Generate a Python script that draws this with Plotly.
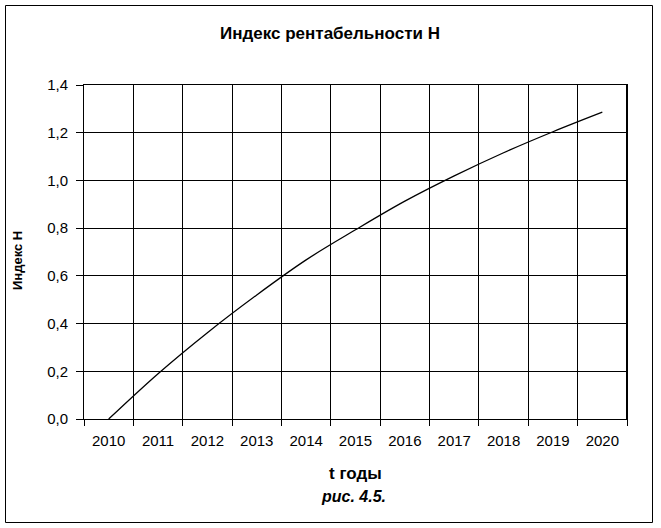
import plotly.graph_objects as go

years = ["2010", "2011", "2012", "2013", "2014", "2015", "2016", "2017", "2018", "2019", "2020"]
index_h = [0.0, 0.190, 0.362, 0.520, 0.667, 0.793, 0.913, 1.019, 1.116, 1.204, 1.286]
y_ticks = [0.0, 0.2, 0.4, 0.6, 0.8, 1.0, 1.2, 1.4]

W, H = 661, 528
L, R, T, B = 84, 34, 85, 109
pw, ph = W - L - R, H - T - B

def px_x(x):
    return (x - L) / pw

def px_y(y):
    return (H - B - y) / ph

FONT = "Liberation Sans, Arial, sans-serif"

fig = go.Figure()
fig.add_trace(go.Scatter(
    x=years, y=index_h, mode="lines",
    line=dict(color="black", width=1.3, shape="spline", smoothing=1.0),
    hoverinfo="x+y", showlegend=False,
))

fig.update_layout(
    width=W, height=H,
    margin=dict(l=L, r=R, t=T, b=B, pad=0),
    paper_bgcolor="white", plot_bgcolor="white",
    separators=", ",
    font=dict(family=FONT, color="black", size=13),
    showlegend=False,
    xaxis=dict(
        type="category", range=[-0.5, 10.5], tickson="boundaries",
        ticks="outside", ticklen=6, tickwidth=1, tickcolor="black",
        showgrid=True, gridcolor="black", gridwidth=1,
        showline=True, linecolor="black", linewidth=1, mirror=True,
        tickfont=dict(size=15, family=FONT), ticklabelstandoff=8,
        zeroline=False,
    ),
    yaxis=dict(
        range=[0, 1.4], tickvals=y_ticks, tickformat=".1f",
        ticks="outside", ticklen=7, tickwidth=1, tickcolor="black",
        showgrid=True, gridcolor="black", gridwidth=1,
        showline=True, linecolor="black", linewidth=1, mirror=True,
        tickfont=dict(size=15, family=FONT), ticklabelstandoff=5,
        zeroline=False,
    ),
    annotations=[
        dict(text="<b>Индекс рентабельности Н</b>", xref="paper", yref="paper",
             x=px_x(330), y=px_y(33), showarrow=False, xanchor="center", yanchor="middle",
             font=dict(size=17, family=FONT)),
        dict(text="<b>Индекс Н</b>", xref="paper", yref="paper",
             x=px_x(17), y=px_y(261), showarrow=False, xanchor="center", yanchor="middle",
             textangle=-90, font=dict(size=13, family=FONT)),
        dict(text="<b>t годы</b>", xref="paper", yref="paper",
             x=px_x(355), y=px_y(473), showarrow=False, xanchor="center", yanchor="middle",
             font=dict(size=17, family=FONT)),
        dict(text="<b><i>рис. 4.5.</i></b>", xref="paper", yref="paper",
             x=px_x(353), y=px_y(496), showarrow=False, xanchor="center", yanchor="middle",
             font=dict(size=16, family=FONT)),
    ],
    shapes=[
        dict(type="rect", xref="paper", yref="paper",
             x0=px_x(5.5), x1=px_x(652.5), y0=px_y(522.5), y1=px_y(5.5),
             line=dict(color="black", width=1), layer="below"),
        dict(type="line", xref="paper", yref="paper",
             x0=1, x1=1, y0=0, y1=1, line=dict(color="black", width=2)),
    ],
)

fig.write_html("out.html", config={"displayModeBar": False},
               post_script="document.body.style.margin='0';")
